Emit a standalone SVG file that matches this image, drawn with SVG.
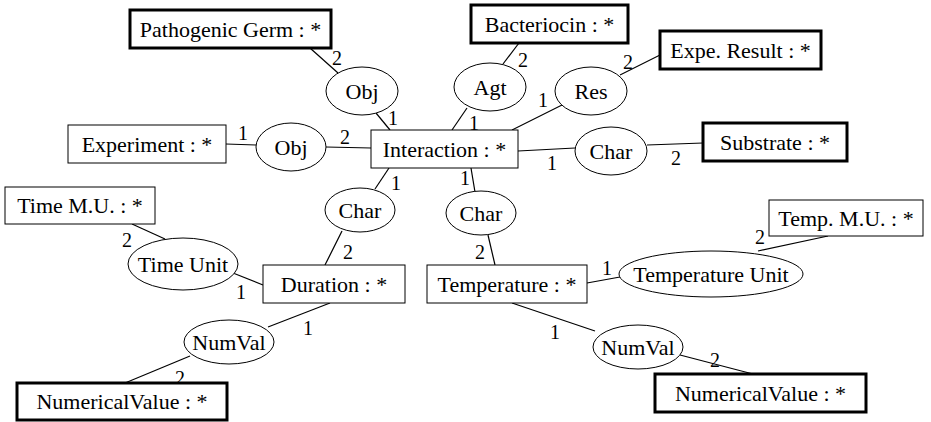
<svg xmlns="http://www.w3.org/2000/svg" width="931" height="422" viewBox="0 0 931 422">
<style>
.bg{fill:#fff}
.c rect.thin{fill:#fff;stroke:#000;stroke-width:1}
.c rect.thick{fill:#fff;stroke:#000;stroke-width:3}
.r ellipse{fill:#fff;stroke:#000;stroke-width:1}
text{font-family:'Liberation Serif','Times New Roman','DejaVu Serif',serif;fill:#000}
.lbl{font-size:22px;text-anchor:middle}
.n{font-size:20px;text-anchor:middle}
#connectors line{stroke:#000;stroke-width:1.2}
</style>
<rect class="bg" x="0" y="0" width="931" height="422"/>
<g id="connectors">
<line x1="310" y1="48" x2="338" y2="73"/>
<line x1="376" y1="113" x2="390" y2="130"/>
<line x1="226" y1="144" x2="256" y2="145"/>
<line x1="326" y1="147" x2="371" y2="148"/>
<line x1="519" y1="43" x2="503" y2="64"/>
<line x1="467" y1="108" x2="452" y2="130"/>
<line x1="620" y1="75" x2="660" y2="55"/>
<line x1="562" y1="105" x2="512" y2="130"/>
<line x1="518" y1="151" x2="575" y2="148"/>
<line x1="647" y1="145" x2="703" y2="143"/>
<line x1="389" y1="168" x2="375" y2="189"/>
<line x1="471" y1="168" x2="475" y2="192"/>
<line x1="132" y1="224" x2="165" y2="239"/>
<line x1="233" y1="273" x2="263" y2="285"/>
<line x1="342" y1="231" x2="325" y2="265"/>
<line x1="330" y1="303" x2="268" y2="327"/>
<line x1="190" y1="356" x2="125" y2="383"/>
<line x1="488" y1="235" x2="495" y2="265"/>
<line x1="587" y1="283" x2="620" y2="277"/>
<line x1="758" y1="251" x2="828" y2="236"/>
<line x1="512" y1="303" x2="595" y2="331"/>
<line x1="680" y1="355" x2="753" y2="374"/>
<g class="nums" font-family="'Liberation Serif', 'Times New Roman', serif">
<text class="n" x="337" y="65">2</text>
<text class="n" x="393" y="125">1</text>
<text class="n" x="243" y="140">1</text>
<text class="n" x="345" y="144">2</text>
<text class="n" x="523" y="67">2</text>
<text class="n" x="474" y="130">1</text>
<text class="n" x="628" y="69">2</text>
<text class="n" x="543" y="107">1</text>
<text class="n" x="552" y="170">1</text>
<text class="n" x="676" y="165">2</text>
<text class="n" x="396" y="190">1</text>
<text class="n" x="465" y="185">1</text>
<text class="n" x="127" y="247">2</text>
<text class="n" x="241" y="299">1</text>
<text class="n" x="348" y="259">2</text>
<text class="n" x="308" y="335">1</text>
<text class="n" x="180" y="385">2</text>
<text class="n" x="480" y="259">2</text>
<text class="n" x="607" y="275">1</text>
<text class="n" x="760" y="244">2</text>
<text class="n" x="555" y="339">1</text>
<text class="n" x="715" y="367">2</text>
</g>
</g>
<g id="pathogenic-germ" class="c"><rect class="thick" x="130" y="10" width="201" height="38"/><text class="lbl" x="230.5" y="37">Pathogenic Germ : *</text></g>
<g id="bacteriocin" class="c"><rect class="thick" x="471" y="5" width="157" height="38"/><text class="lbl" x="549.5" y="32">Bacteriocin : *</text></g>
<g id="expe-result" class="c"><rect class="thick" x="660" y="31" width="161" height="38"/><text class="lbl" x="740.5" y="58">Expe. Result : *</text></g>
<g id="obj-top" class="r"><ellipse cx="362" cy="91" rx="36" ry="24"/><text class="lbl" x="362" y="99">Obj</text></g>
<g id="agt" class="r"><ellipse cx="490" cy="87" rx="36" ry="24"/><text class="lbl" x="490" y="95">Agt</text></g>
<g id="res" class="r"><ellipse cx="591" cy="91" rx="36" ry="24"/><text class="lbl" x="591" y="99">Res</text></g>
<g id="experiment" class="c"><rect class="thin" x="68" y="125" width="158" height="38"/><text class="lbl" x="147" y="152">Experiment : *</text></g>
<g id="obj-left" class="r"><ellipse cx="291" cy="147" rx="35" ry="24"/><text class="lbl" x="291" y="155">Obj</text></g>
<g id="interaction" class="c"><rect class="thin" x="371" y="130" width="147" height="38"/><text class="lbl" x="444.5" y="157">Interaction : *</text></g>
<g id="char-right" class="r"><ellipse cx="611" cy="151" rx="36" ry="24"/><text class="lbl" x="611" y="159">Char</text></g>
<g id="substrate" class="c"><rect class="thick" x="703" y="123" width="144" height="38"/><text class="lbl" x="775" y="150">Substrate : *</text></g>
<g id="time-mu" class="c"><rect class="thin" x="5" y="187" width="150" height="37"/><text class="lbl" x="80" y="213">Time M.U. : *</text></g>
<g id="char-dur" class="r"><ellipse cx="360" cy="210" rx="35" ry="22"/><text class="lbl" x="360" y="218">Char</text></g>
<g id="char-temp" class="r"><ellipse cx="481" cy="213" rx="35" ry="22"/><text class="lbl" x="481" y="221">Char</text></g>
<g id="temp-mu" class="c"><rect class="thin" x="769" y="200" width="154" height="36"/><text class="lbl" x="846" y="226">Temp. M.U. : *</text></g>
<g id="time-unit" class="r"><ellipse cx="183" cy="264" rx="55" ry="26"/><text class="lbl" x="183" y="272">Time Unit</text></g>
<g id="duration" class="c"><rect class="thin" x="263" y="265" width="142" height="38"/><text class="lbl" x="334" y="292">Duration : *</text></g>
<g id="temperature" class="c"><rect class="thin" x="427" y="265" width="160" height="38"/><text class="lbl" x="507" y="292">Temperature : *</text></g>
<g id="temperature-unit" class="r"><ellipse cx="711" cy="274" rx="92" ry="23"/><text class="lbl" x="711" y="282">Temperature Unit</text></g>
<g id="numval-left" class="r"><ellipse cx="229" cy="342" rx="45" ry="22"/><text class="lbl" x="229" y="350">NumVal</text></g>
<g id="numval-right" class="r"><ellipse cx="638" cy="347" rx="45" ry="22"/><text class="lbl" x="638" y="355">NumVal</text></g>
<g id="numerical-value-left" class="c"><rect class="thick" x="17" y="383" width="210" height="37"/><text class="lbl" x="122" y="409">NumericalValue : *</text></g>
<g id="numerical-value-right" class="c"><rect class="thick" x="655" y="374" width="211" height="38"/><text class="lbl" x="760.5" y="401">NumericalValue : *</text></g>
</svg>
